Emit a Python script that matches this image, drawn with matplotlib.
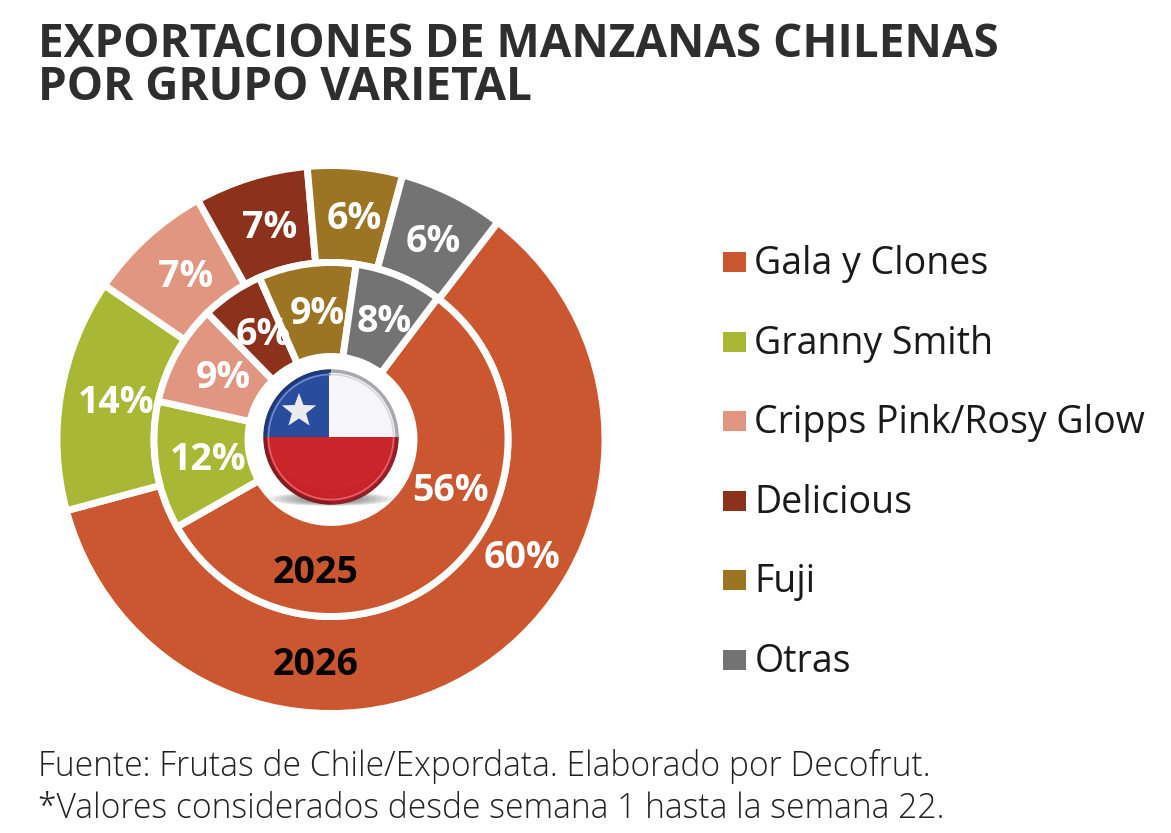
import numpy as np
import matplotlib
matplotlib.use('Agg')
import matplotlib.pyplot as plt
from matplotlib.patches import Circle, Polygon, Rectangle, Ellipse, Arc

plt.rcParams['font.family'] = ['Open Sans', 'DejaVu Sans']

categories = ['Gala y Clones', 'Granny Smith', 'Cripps Pink/Rosy Glow', 'Delicious', 'Fuji', 'Otras']
# shares measured from the slice edges, printed labels kept apart since they are rounded
shares_2026 = [60.4, 13.7, 7.4, 6.7, 5.6, 6.2]
shares_2025 = [56.5, 11.7, 9.2, 5.7, 8.9, 8.0]
labels_2026 = ['60%', '14%', '7%', '7%', '6%', '6%']
labels_2025 = ['56%', '12%', '9%', '6%', '9%', '8%']
colors = ['#CB5731', '#A8B834', '#E09680', '#8B311C', '#9B7424', '#737373']
title_lines = ['EXPORTACIONES DE MANZANAS CHILENAS', 'POR GRUPO VARIETAL']
source_lines = ['Fuente: Frutas de Chile/Expordata. Elaborado por Decofrut.',
                '*Valores considerados desde semana 1 hasta la semana 22.']

W, H = 1171, 833
fig = plt.figure(figsize=(W / 100, H / 100), dpi=100, facecolor='white')
ax = fig.add_axes([0, 0, 1, 1])
ax.set_xlim(0, W)
ax.set_ylim(H, 0)
ax.axis('off')
ax.set_zorder(3)
ax.patch.set_alpha(0)

# pies drawn in their own axes so they stay round
cx, cy = 331, 439.5
R = 274
R_mid = 177
R_hole = 83
pie_ax = fig.add_axes([(cx - R) / W, 1 - (cy + R) / H, 2 * R / W, 2 * R / H])

wedge_line = dict(edgecolor='white', linewidth=5)
outer, _ = pie_ax.pie(shares_2026, radius=1, colors=colors, startangle=52.5, counterclock=False,
                      wedgeprops=dict(width=1 - R_mid / R, **wedge_line))
inner, _ = pie_ax.pie(shares_2025, radius=R_mid / R, colors=colors, startangle=53, counterclock=False,
                      wedgeprops=dict(width=(R_mid - R_hole) / R, **wedge_line))
pie_ax.set_xlim(-1, 1)
pie_ax.set_ylim(-1, 1)
pie_ax.axis('off')


def label_ring(wedges, labels, r):
    for w, s in zip(wedges, labels):
        a = np.radians((w.theta1 + w.theta2) / 2)
        ax.text(cx + 4 + r * np.cos(a), cy + 1 - r * np.sin(a), s, ha='center', va='center',
                fontsize=27, fontweight='bold', color='white')


label_ring(outer[1:], labels_2026[1:], 222)
label_ring(inner[1:], labels_2025[1:], 128)
ax.text(522, 558, labels_2026[0], ha='center', va='center', fontsize=27, fontweight='bold', color='white')
ax.text(450, 491, labels_2025[0], ha='center', va='center', fontsize=27, fontweight='bold', color='white')
ax.text(316, 573, '2025', ha='center', va='center', fontsize=27, fontweight='bold', color='black')
ax.text(316, 665, '2026', ha='center', va='center', fontsize=27, fontweight='bold', color='black')

# flag button in the centre
fx, fy, fr = 331, 437, 67
for k in range(8):
    ax.add_patch(Ellipse((fx, fy + 62), 125 - k * 12, 14 - k, fc='#333333', ec='none', alpha=0.09))
clip = Circle((fx, fy), fr, transform=ax.transData)
for patch in [Rectangle((fx - fr, fy - fr), 2 * fr, fr, fc='#F6F6F8'),
              Rectangle((fx - fr, fy), 2 * fr, fr, fc='#C8222A'),
              Rectangle((fx - fr, fy - fr), fr * 0.97, fr, fc='#2A4C9C')]:
    ax.add_patch(patch)
    patch.set_clip_path(clip)
star = [(fx - 32 + (18 if i % 2 == 0 else 7.5) * np.sin(i * np.pi / 5),
         fy - 26 - (18 if i % 2 == 0 else 7.5) * np.cos(i * np.pi / 5)) for i in range(10)]
ax.add_patch(Polygon(star, fc='#ECECF0', ec='none'))
# glass rim
ax.add_patch(Arc((fx, fy), 2 * fr - 2, 2 * fr - 2, theta1=270, theta2=360, ec='#A8A8AC', lw=2.5))
ax.add_patch(Arc((fx, fy), 2 * fr - 2, 2 * fr - 2, theta1=0, theta2=90, ec='#8E2028', lw=2.5))
ax.add_patch(Arc((fx, fy), 2 * fr - 2, 2 * fr - 2, theta1=90, theta2=180, ec='#7E1C22', lw=2.5))
ax.add_patch(Arc((fx, fy), 2 * fr - 2, 2 * fr - 2, theta1=180, theta2=270, ec='#1F3878', lw=2.5))
ax.add_patch(Arc((fx, fy), 2 * fr - 9, 2 * fr - 9, theta1=0, theta2=180, ec='#E2606A', lw=1.2))
ax.add_patch(Arc((fx, fy), 2 * fr - 9, 2 * fr - 9, theta1=270, theta2=360, ec='#D8D8DC', lw=1.2))
ax.add_patch(Arc((fx, fy), 2 * fr - 9, 2 * fr - 9, theta1=180, theta2=270, ec='#6F8CCB', lw=1.2))
shade = Ellipse((fx, fy + 5), 2 * fr - 14, 2 * fr - 40, fc='#E23A40', ec='none', alpha=0.18)
ax.add_patch(shade)
shade.set_clip_path(Rectangle((fx - fr, fy + 1), 2 * fr, fr, transform=ax.transData))

# title
ax.text(38, 44, title_lines[0], fontsize=33, fontweight='bold', color='#2E2E2E', va='center')
ax.text(38, 87, title_lines[1], fontsize=33, fontweight='bold', color='#2E2E2E', va='center')

# legend
for i, (name, c) in enumerate(zip(categories, colors)):
    y = 262 + i * 79.6
    ax.add_patch(Rectangle((723, y - 10), 23, 20, fc=c, ec='none'))
    ax.text(754.5, y + 2, name, fontsize=27, color='#1A1A1A', va='center')

# source
ax.text(38, 767, source_lines[0], fontsize=24.2, fontweight='light', color='#222222', va='center')
ax.text(38, 809, source_lines[1], fontsize=24.2, fontweight='light', color='#222222', va='center')

fig.savefig('out.png', dpi=100, facecolor='white')
